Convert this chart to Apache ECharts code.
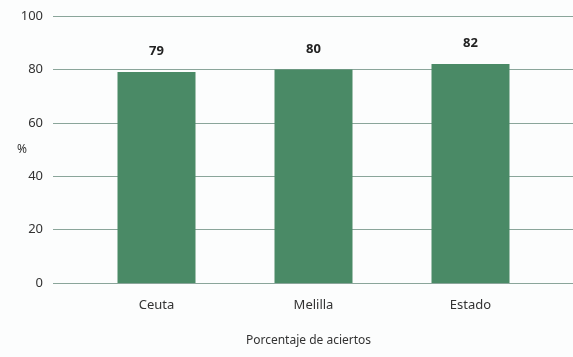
<!DOCTYPE html>
<html>
<head>
<meta charset="utf-8">
<script src="https://cdn.jsdelivr.net/npm/echarts@6/dist/echarts.min.js"></script>
<style>
html,body{margin:0;padding:0;background:#fcfdfd;}
#c{width:573px;height:357px;}
</style>
</head>
<body>
<div id="c"></div>
<script>
const categories = ['Ceuta', 'Melilla', 'Estado'];
const values = [79, 80, 82];
const yTicks = [0, 20, 40, 60, 80, 100];
const yName = '%';
const xName = 'Porcentaje de aciertos';

const chart = echarts.init(document.getElementById('c'), null, {renderer: 'canvas'});
const font = 'Noto Sans';
chart.setOption({
  backgroundColor: '#fcfdfd',
  animation: false,
  grid: [
    {left: 53, right: 0, top: 16, bottom: 74},
    {left: 78, right: 24, top: 16, bottom: 74}
  ],
  xAxis: [
    {gridIndex: 0, type: 'category', data: categories, show: false},
    {
      gridIndex: 1, type: 'category', data: categories,
      axisLine: {show: false}, axisTick: {show: false},
      axisLabel: {margin: 16, color: '#333', fontSize: 13, fontFamily: font},
      name: xName, nameLocation: 'middle', nameGap: 52,
      nameTextStyle: {color: '#333', fontSize: 12, fontFamily: font, padding: [0, 10, 0, 0]}
    }
  ],
  yAxis: [
    {
      gridIndex: 0, type: 'value', min: yTicks[0], max: yTicks[yTicks.length - 1], interval: 20,
      axisLine: {show: false}, axisTick: {show: false},
      axisLabel: {margin: 10, color: '#333', fontSize: 13, fontFamily: font},
      splitLine: {lineStyle: {color: '#8aa59a', width: 1}},
      name: yName, nameLocation: 'middle', nameRotate: 0, nameGap: 26,
      nameMoveOverlap: false,
      nameTextStyle: {color: '#333', fontSize: 12, fontFamily: font}
    },
    {gridIndex: 1, type: 'value', min: yTicks[0], max: yTicks[yTicks.length - 1], show: false}
  ],
  series: [{
    type: 'bar',
    xAxisIndex: 1, yAxisIndex: 1,
    data: values,
    barWidth: 78,
    itemStyle: {color: '#4a8a66'},
    label: {
      show: true, position: 'top', distance: 14,
      color: '#222', fontSize: 13, fontWeight: 'bold', fontFamily: font
    }
  }]
});
</script>
</body>
</html>
